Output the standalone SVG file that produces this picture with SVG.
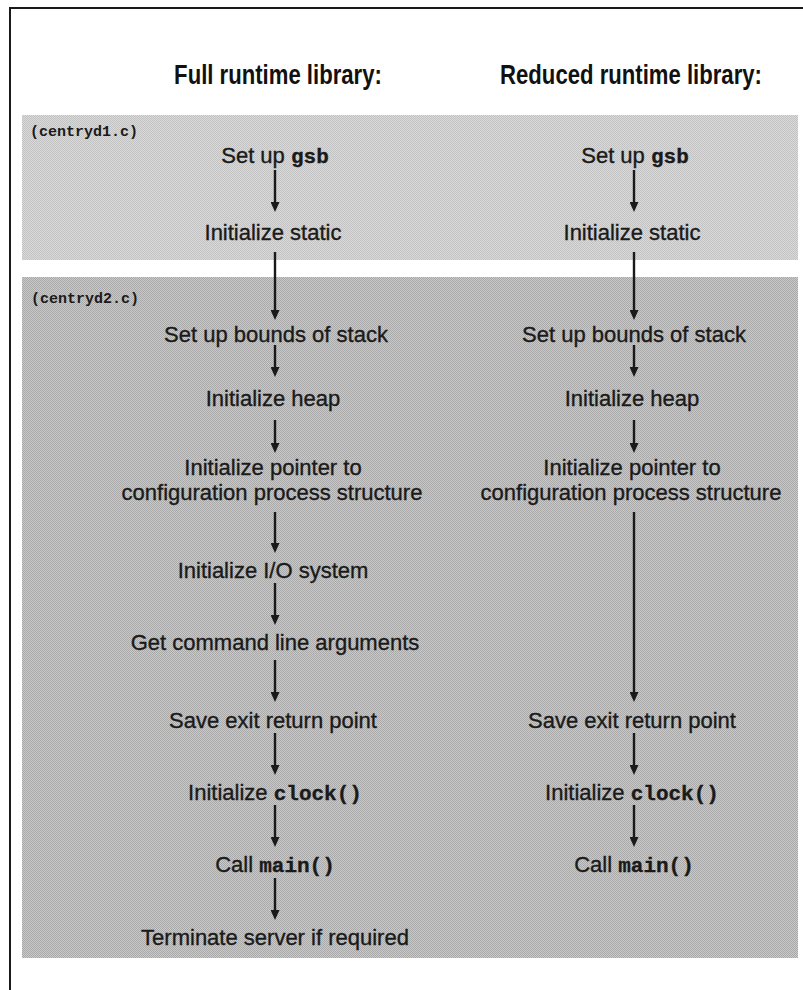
<svg xmlns="http://www.w3.org/2000/svg" width="803" height="990" viewBox="0 0 803 990">
  <defs>
    <!-- halftone screens for the two source-file bands -->
    <pattern id="screenLight" width="2" height="2" patternUnits="userSpaceOnUse">
      <rect width="2" height="2" fill="#dadada"/>
      <rect x="0" y="0" width="1" height="1" fill="#c2c2c2"/>
      <rect x="1" y="1" width="1" height="1" fill="#c2c2c2"/>
    </pattern>
    <pattern id="screenDark" width="2" height="2" patternUnits="userSpaceOnUse">
      <rect width="2" height="2" fill="#cacaca"/>
      <rect x="0" y="0" width="1" height="1" fill="#a8a8a8"/>
      <rect x="1" y="1" width="1" height="1" fill="#a8a8a8"/>
    </pattern>
    <marker id="arrowhead" markerUnits="userSpaceOnUse" markerWidth="10" markerHeight="9" refX="4" refY="4.5" orient="auto">
      <path d="M0,0 L10,4.5 L0,9 z" fill="#1a1a1a"/>
    </marker>
  </defs>
  <style>
    .frame { stroke: #1a1a1a; stroke-width: 2; fill: none; }
    .head { font-family: "Liberation Sans", Arial, sans-serif; font-weight: bold; font-size: 27px; fill: #111; text-anchor: middle; }
    .step { font-family: "Liberation Sans", Arial, sans-serif; font-size: 22px; fill: #1a1a1a; stroke: #1a1a1a; stroke-width: 0.35; text-anchor: middle; }
    .code { font-family: "Liberation Mono", "Courier New", monospace; font-weight: bold; font-size: 21px; }
    .file { font-family: "Liberation Mono", "Courier New", monospace; font-weight: bold; font-size: 15px; fill: #1a1a1a; }
    .flow { stroke: #1a1a1a; stroke-width: 2.4; fill: none; marker-end: url(#arrowhead); }
  </style>

  <rect width="803" height="990" fill="#ffffff"/>

  <!-- outer frame (top and left edges) -->
  <path class="frame" d="M10,990 L10,8 L803,8"/>

  <!-- column headings, set in a condensed bold face -->
  <g id="heading-full" transform="translate(278,84) scale(0.82,1)">
    <text class="head" x="0" y="0">Full runtime library:</text>
  </g>
  <g id="heading-reduced" transform="translate(631,84) scale(0.82,1)">
    <text class="head" x="0" y="0">Reduced runtime library:</text>
  </g>

  <!-- source file bands -->
  <g id="band-centryd1">
    <rect x="22" y="115" width="776" height="145" fill="url(#screenLight)"/>
    <text class="file" x="30" y="136">(centryd1.c)</text>
  </g>
  <g id="band-centryd2">
    <rect x="22" y="277" width="776" height="681" fill="url(#screenDark)"/>
    <text class="file" x="31" y="303">(centryd2.c)</text>
  </g>

  <!-- connectors -->
  <g id="connectors">
    <!-- full runtime column -->
    <line class="flow" x1="275" y1="170" x2="275" y2="206"/>
    <line class="flow" x1="275" y1="252" x2="275" y2="314"/>
    <line class="flow" x1="275" y1="345" x2="275" y2="371"/>
    <line class="flow" x1="275" y1="420" x2="275" y2="447"/>
    <line class="flow" x1="275" y1="512" x2="275" y2="547"/>
    <line class="flow" x1="275" y1="583" x2="275" y2="619"/>
    <line class="flow" x1="275" y1="660" x2="275" y2="696"/>
    <line class="flow" x1="275" y1="733" x2="275" y2="769"/>
    <line class="flow" x1="275" y1="805" x2="275" y2="841"/>
    <line class="flow" x1="275" y1="878" x2="275" y2="914"/>
    <!-- reduced runtime column -->
    <line class="flow" x1="634" y1="170" x2="634" y2="206"/>
    <line class="flow" x1="634" y1="252" x2="634" y2="314"/>
    <line class="flow" x1="634" y1="345" x2="634" y2="371"/>
    <line class="flow" x1="634" y1="420" x2="634" y2="447"/>
    <line class="flow" x1="634" y1="512" x2="634" y2="696"/>
    <line class="flow" x1="634" y1="733" x2="634" y2="769"/>
    <line class="flow" x1="634" y1="805" x2="634" y2="841"/>
  </g>

  <!-- full runtime library steps -->
  <g id="full-setup-gsb"><text class="step" x="275" y="163">Set up <tspan class="code">gsb</tspan></text></g>
  <g id="full-init-static"><text class="step" x="273" y="240">Initialize static</text></g>
  <g id="full-stack-bounds"><text class="step" x="276" y="342">Set up bounds of stack</text></g>
  <g id="full-init-heap"><text class="step" x="273" y="406">Initialize heap</text></g>
  <g id="full-config-pointer">
    <text class="step" x="273" y="475">Initialize pointer to</text>
    <text class="step" x="272" y="500">configuration process structure</text>
  </g>
  <g id="full-init-io"><text class="step" x="273" y="578">Initialize I/O system</text></g>
  <g id="full-cmd-args"><text class="step" x="275" y="650">Get command line arguments</text></g>
  <g id="full-exit-point"><text class="step" x="273" y="728">Save exit return point</text></g>
  <g id="full-init-clock"><text class="step" x="275" y="800">Initialize <tspan class="code">clock()</tspan></text></g>
  <g id="full-call-main"><text class="step" x="275" y="872">Call <tspan class="code">main()</tspan></text></g>
  <g id="full-terminate"><text class="step" x="275" y="945">Terminate server if required</text></g>

  <!-- reduced runtime library steps -->
  <g id="reduced-setup-gsb"><text class="step" x="635" y="163">Set up <tspan class="code">gsb</tspan></text></g>
  <g id="reduced-init-static"><text class="step" x="632" y="240">Initialize static</text></g>
  <g id="reduced-stack-bounds"><text class="step" x="634" y="342">Set up bounds of stack</text></g>
  <g id="reduced-init-heap"><text class="step" x="632" y="406">Initialize heap</text></g>
  <g id="reduced-config-pointer">
    <text class="step" x="632" y="475">Initialize pointer to</text>
    <text class="step" x="631" y="500">configuration process structure</text>
  </g>
  <g id="reduced-exit-point"><text class="step" x="632" y="728">Save exit return point</text></g>
  <g id="reduced-init-clock"><text class="step" x="632" y="800">Initialize <tspan class="code">clock()</tspan></text></g>
  <g id="reduced-call-main"><text class="step" x="634" y="872">Call <tspan class="code">main()</tspan></text></g>
</svg>
